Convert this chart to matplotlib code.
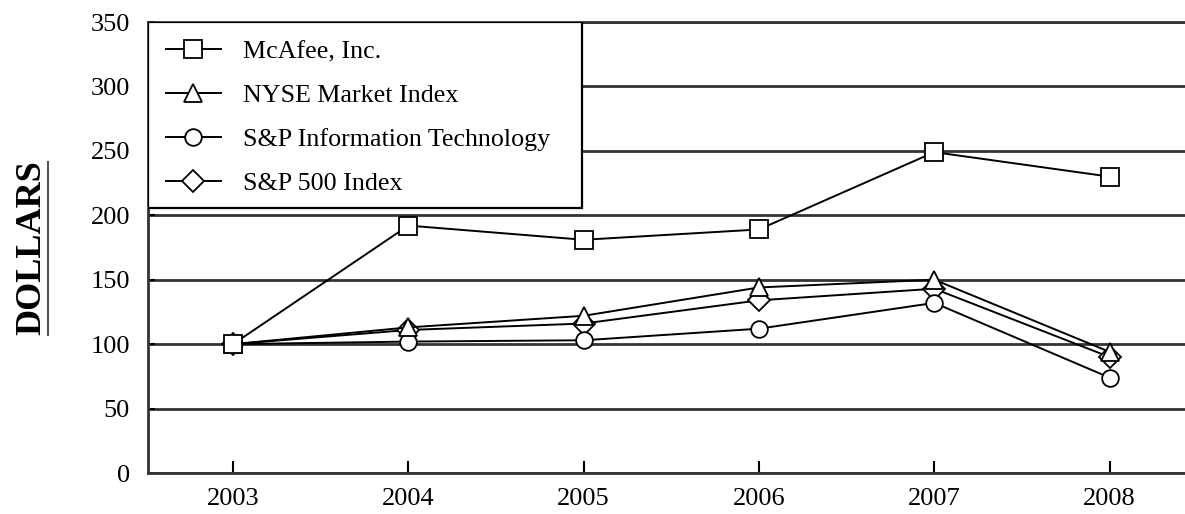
import matplotlib
matplotlib.use("Agg")
import matplotlib.pyplot as plt
from matplotlib.patches import Rectangle
from matplotlib.lines import Line2D

plt.rcParams['font.family'] = ['Liberation Serif', 'DejaVu Serif']

years = [2003, 2004, 2005, 2006, 2007, 2008]
mcafee = [100, 192, 181, 189, 249, 230]
nyse = [100, 113, 122, 144, 150, 94]
sp_it = [100, 102, 103, 112, 132, 74]
sp500 = [100, 111, 116, 134, 143, 90]

fig = plt.figure(figsize=(11.85, 5.14), dpi=100)
ax = fig.add_axes([148 / 1185, 41 / 514, 1 - 148 / 1185, 451 / 514])

kw = dict(color='black', lw=1.4, markerfacecolor='white',
          markeredgecolor='black', markeredgewidth=1.3)
l4, = ax.plot(years, sp500, marker='D', ms=11.5, zorder=3, **kw)
l3, = ax.plot(years, sp_it, marker='o', ms=12, zorder=3.1, **kw)
l2, = ax.plot(years, nyse, marker='^', ms=13, zorder=3.2, **kw)
l1, = ax.plot(years, mcafee, marker='s', ms=12.5, zorder=3.3, **kw)

ax.set_xlim(2002.515, 2008.43)
ax.set_ylim(0, 350)
ax.set_xticks(years)
ax.set_yticks(range(0, 351, 50))
ax.tick_params(axis='both', direction='in', labelsize=19, width=1.5)
ax.tick_params(axis='y', length=5, pad=13)
ax.tick_params(axis='x', length=9, pad=11)

ax.set_axisbelow(True)
ax.yaxis.grid(True, color='#333333', lw=2.0)
ax.spines['right'].set_visible(False)
for s in ['left', 'bottom', 'top']:
    ax.spines[s].set_linewidth(2.0)
    ax.spines[s].set_color('#333333')

# legend box covering the upper-left corner
box = Rectangle((0, 0.588), 0.4185, 0.412, transform=ax.transAxes,
                facecolor='white', edgecolor='black', lw=1.6, zorder=4)
ax.add_patch(box)
leg = ax.legend([l1, l2, l3, l4],
                ['McAfee, Inc.', 'NYSE Market Index',
                 'S&P Information Technology', 'S&P 500 Index'],
                loc='upper left', bbox_to_anchor=(0.0, 1.0), frameon=False,
                fontsize=18.7, handlelength=2.1, handletextpad=0.85,
                labelspacing=0.8, borderpad=0.7, borderaxespad=0.0)
leg.set_zorder(5)

fig.text(0.027, 0.518, 'DOLLARS', rotation=90, ha='center', va='center',
         fontsize=26, fontweight='bold')
fig.add_artist(Line2D([48 / 1185, 48 / 1185], [1 - 335 / 514, 1 - 162 / 514],
                      color='#555555', lw=1.5))

fig.savefig('out.png', dpi=100)
